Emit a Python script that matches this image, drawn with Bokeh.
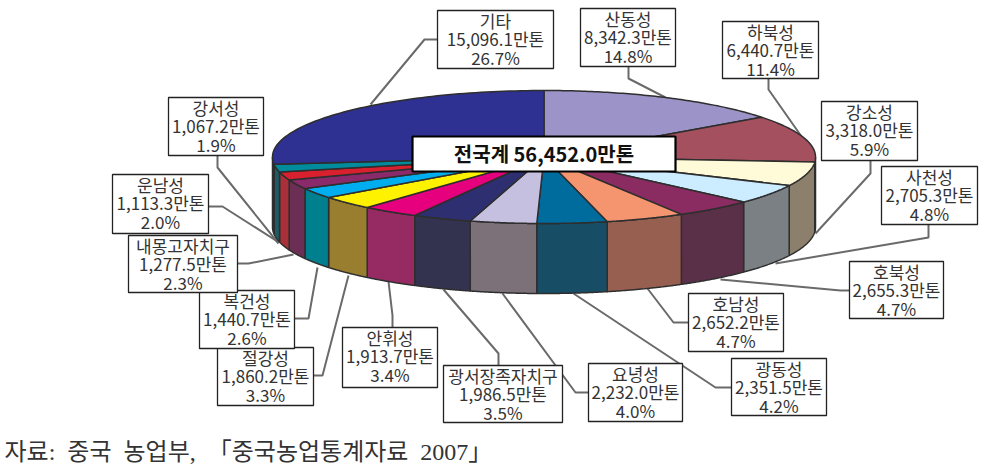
import numpy as np
from bokeh.plotting import figure, ColumnDataSource
from bokeh.models import Range1d
from bokeh.core.properties import value
from bokeh.embed import file_html
from bokeh.resources import INLINE

# ---- data, clockwise from twelve o'clock
names = ["산동성", "하북성", "강소성", "사천성", "호북성", "호남성", "광동성", "요녕성",
         "광서장족자치구", "안휘성", "절강성", "복건성", "내몽고자치구", "운남성", "강서성", "기타"]
tonnes = [8342.3, 6440.7, 3318.0, 2705.3, 2655.3, 2652.2, 2351.5, 2232.0,
          1986.5, 1913.7, 1860.2, 1440.7, 1277.5, 1113.3, 1067.2, 15096.1]
shares = [14.8, 11.4, 5.9, 4.8, 4.7, 4.7, 4.2, 4.0, 3.5, 3.4, 3.3, 2.6, 2.3, 2.0, 1.9, 26.7]
top_colors = ["#9C94C8", "#A5505F", "#FFFBD8", "#CCECFF", "#8A2C62", "#F49570", "#006C9E", "#C5BFE0",
              "#2E2F70", "#E6007E", "#FFF200", "#00AEEF", "#8B2A6A", "#D8202E", "#008C9C", "#2E3192"]
side_colors = ["#6A6488", "#7A3B47", "#8C7F6C", "#7A8083", "#5A2F48", "#965F50", "#174E66", "#7C7079",
               "#33324F", "#962B64", "#9A7E30", "#007F8E", "#6B2F55", "#A93038", "#1D5C66", "#1F2260"]
total_label = "전국계 56,452.0만톤"
source_note = "자료: 중국 농업부, 「중국농업통계자료 2007」"

# ---- layout (page pixels of the reference)
CX, CY, RX, RY, DEPTH = 543.5, 156.5, 271.5, 66.5, 70
boxes = [(580, 675, 8, 66), (722, 818, 21, 78), (821, 917, 101, 160), (881, 977, 166, 224),
         (849, 943, 261, 318), (688, 783, 293, 351), (731, 826, 358, 415), (588, 682, 363, 421),
         (443, 562, 365, 422), (342, 437, 327, 387), (217, 313, 347, 405), (199, 294, 290, 348),
         (128, 237, 235, 292), (112, 208, 174, 233), (168, 263, 97, 155), (437, 553, 10, 68)]
leaders = [[(628, 66), (628, 78), (665, 97)], [(768, 78), (768, 89), (801, 136)],
           [(870, 160), (870, 173), (815, 233)], [(928, 224), (928, 237), (775, 263)],
           [(849, 290), (840, 290), (720, 279)], [(688, 322), (673, 322), (647, 288)],
           [(731, 387), (715, 387), (573, 293)], [(588, 392), (575, 392), (502, 293)],
           [(498, 365), (498, 353), (443, 289)], [(392, 327), (392, 315), (388, 281)],
           [(313, 375), (322, 375), (348, 275)], [(294, 318), (308, 318), (317, 267)],
           [(237, 263), (248, 263), (293, 254)], [(208, 206), (222, 206), (277, 241)],
           [(217, 155), (217, 167), (278, 243)], [(437, 39), (424, 39), (370, 104)]]
center_box = (412, 675, 136, 171)
note_xy = (4, 451)

p = figure(width=986, height=474, output_backend="svg", toolbar_location=None,
           x_range=Range1d(0, 986), y_range=Range1d(474, 0),
           x_axis_location=None, y_axis_location=None, min_border=0,
           outline_line_color=None, background_fill_color="white", border_fill_color="white")
p.xgrid.visible = False
p.ygrid.visible = False

# ---- pie geometry from the values
fractions = np.cumsum([0.0] + tonnes) / sum(tonnes)
angles = fractions * 2 * np.pi


def rim(theta):
    return CX + RX * np.sin(theta), CY - RY * np.cos(theta)


side_xs, side_ys, side_fill = [], [], []
top_xs, top_ys = [], []
for a, b, side in zip(angles[:-1], angles[1:], side_colors):
    t = np.linspace(a, b, 80)
    x, y = rim(t)
    top_xs.append(np.r_[CX, x].tolist())
    top_ys.append(np.r_[CY, y].tolist())
    lo, hi = max(a, np.pi / 2), min(b, 3 * np.pi / 2)
    if hi > lo:
        t = np.linspace(lo, hi, 60)
        x, y = rim(t)
        side_xs.append(np.r_[x, x[::-1]].tolist())
        side_ys.append(np.r_[y, y[::-1] + DEPTH].tolist())
        side_fill.append(side)

# ---- leaders lie beneath the pie
p.multi_line(xs=[[q[0] for q in l] for l in leaders], ys=[[q[1] for q in l] for l in leaders],
             line_color="#6A6A6A", line_width=2)

p.patches(xs="x", ys="y", source=ColumnDataSource(dict(x=side_xs, y=side_ys, c=side_fill)),
          fill_color="c", line_color="#2E2E2E", line_width=1.5)
p.patches(xs="x", ys="y", source=ColumnDataSource(dict(x=top_xs, y=top_ys, c=top_colors)),
          fill_color="c", line_color="#2E2E2E", line_width=1.5)

# ---- label boxes
p.quad(left=[b[0] for b in boxes], right=[b[1] for b in boxes],
       top=[b[2] for b in boxes], bottom=[b[3] for b in boxes],
       fill_color="white", line_color="#222222", line_width=1.3)

FONT = value("Noto Sans CJK KR")
mid_x = [(b[0] + b[1]) / 2 for b in boxes]
for k, lines in enumerate([names, [f"{v:,.1f}만톤" for v in tonnes], [f"{s:.1f}%" for s in shares]]):
    p.text(x=mid_x, y=[b[2] + 9.5 + 18.8 * k for b in boxes], text=lines,
           text_font=FONT, text_font_size="17px", text_color="#333333",
           text_align="center", text_baseline="middle")

p.quad(left=[center_box[0]], right=[center_box[1]], top=[center_box[2]], bottom=[center_box[3]],
       fill_color="white", line_color="#000000", line_width=2.2)
p.text(x=[(center_box[0] + center_box[1]) / 2], y=[(center_box[2] + center_box[3]) / 2 - 0.5], text=[total_label],
       text_font=FONT, text_font_size="20px", text_font_style="bold", text_color="#111111",
       text_align="center", text_baseline="middle")

p.text(x=[note_xy[0]], y=[note_xy[1]], text=[source_note.replace(" ", "\u00a0\u00a0")],
       text_font=value("Liberation Serif, Noto Sans CJK KR"), text_font_size="24px",
       text_color="#333333", text_align="left", text_baseline="middle")

open("out.html", "w").write(file_html(p, INLINE))
